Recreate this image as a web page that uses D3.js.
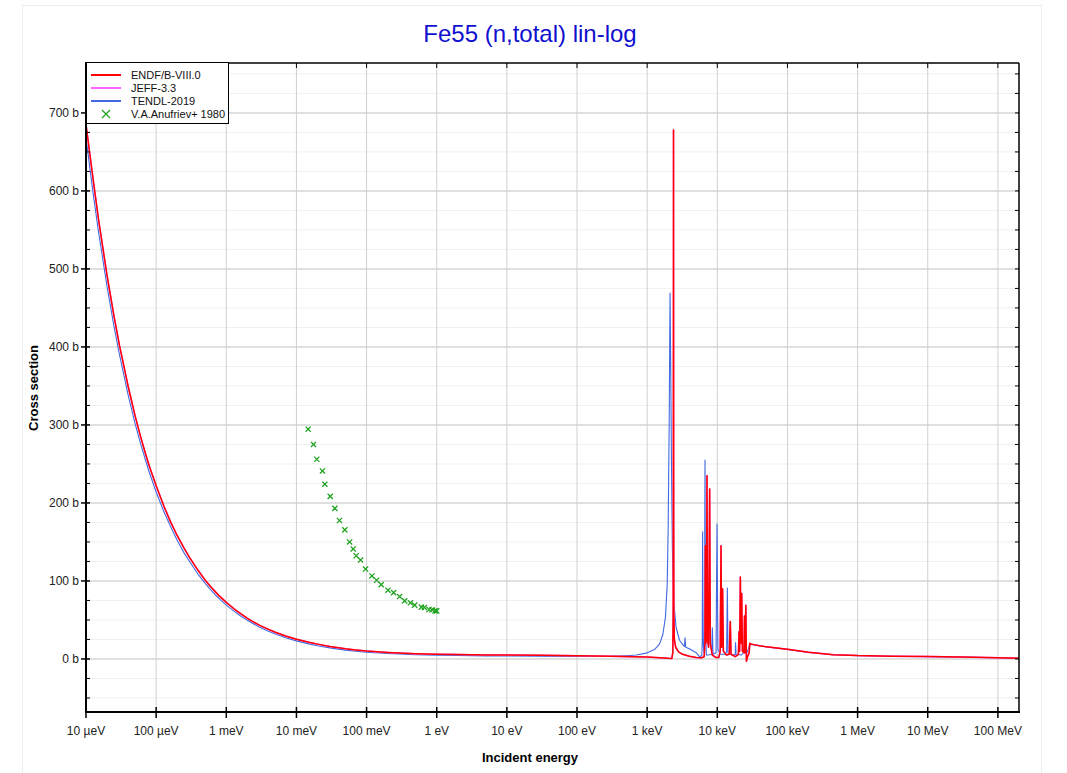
<!DOCTYPE html>
<html>
<head>
<meta charset="utf-8">
<script src="https://cdn.jsdelivr.net/npm/d3@7"></script>
<style>
  body { margin: 0; background: #fff; }
  svg { font-family: "Liberation Sans", Arial, sans-serif; }
</style>
</head>
<body>
<svg id="chart" width="1067" height="773"></svg>
<script>
// Fe55 (n,total) - energies in eV, cross sections in barns

// ENDF/B-VIII.0
const endf = [
    [1e-5, 685], [1.25e-5, 618], [1.5e-5, 565], [2e-5, 491], [2.5e-5, 440], [3e-5, 402],
    [4e-5, 349], [5e-5, 312], [6e-5, 285], [7e-5, 264], [8e-5, 247], [1e-4, 222],
    [1.3e-4, 195], [1.6e-4, 176], [2e-4, 158], [2.5e-4, 142], [3e-4, 130], [4e-4, 113],
    [5e-4, 101], [6e-4, 92.5], [7e-4, 86], [8e-4, 80.5], [1e-3, 72.5], [1.3e-3, 64],
    [1.6e-3, 58], [2e-3, 52], [2.5e-3, 47], [3e-3, 43], [4e-3, 38], [5e-3, 34.3],
    [7e-3, 29.5], [1e-2, 25.3], [1.5e-2, 21.3], [2e-2, 19], [3e-2, 16], [5e-2, 13],
    [7e-2, 11.5], [0.1, 10.2], [0.2, 8.4], [0.5, 6.8], [1, 6.1], [2, 5.6], [5, 5.2],
    [10, 5.0], [30, 4.6], [100, 4.2], [300, 3.6], [1000, 2.4], [1500, 1.6], [2000, 0.8],
    [2250, 0.6], [2320, 8], [2350, 60], [2365, 250], [2375, 678], [2385, 250], [2400, 60],
    [2440, 25], [2550, 15], [2800, 9], [3200, 6], [4000, 3.5], [5000, 2], [6000, 1.5],
    [6500, 3], [6650, 20], [6750, 145], [6850, 20], [7000, 25], [7130, 235], [7250, 25],
    [7500, 15], [7780, 218], [7950, 20], [8500, 5], [9500, 2], [10500, 2], [11000, 10],
    [11300, 145], [11550, 15], [11900, 90], [12200, 10], [13500, 5], [14800, 6], [15300, 48],
    [15700, 6], [18000, 3], [20000, 6], [20400, 35], [20800, 10], [21300, 105], [21800, 20],
    [22300, 84], [22800, 10], [24000, 8], [24400, 55], [24800, 8], [25500, 69], [26000, -3],
    [27000, 3], [28500, 8], [29000, 20], [29500, 18], [30000, 19], [50000, 15.5],
    [1e5, 12.3], [2e5, 8.5], [4.5e5, 5.5], [1e6, 4.3], [3e6, 3.6], [1e7, 3.0],
    [3e7, 2.4], [1e8, 1.7], [2e8, 0.9]
];

// JEFF-3.3 coincides with ENDF/B-VIII.0 on this plot (hidden under the red line)
const jeff = endf;

// TENDL-2019
const tendl = [
    [1e-5, 668], [1.25e-5, 600], [1.5e-5, 549], [2e-5, 477], [2.5e-5, 427], [3e-5, 390],
    [4e-5, 338], [5e-5, 302], [6e-5, 276], [7e-5, 256], [8e-5, 239], [1e-4, 214],
    [1.3e-4, 188], [1.6e-4, 170], [2e-4, 152], [2.5e-4, 136], [3e-4, 125], [4e-4, 108],
    [5e-4, 97], [6e-4, 88.5], [7e-4, 82], [8e-4, 77], [1e-3, 69], [1.3e-3, 61],
    [1.6e-3, 55], [2e-3, 49.5], [2.5e-3, 44.5], [3e-3, 40.5], [4e-3, 35.5], [5e-3, 32],
    [7e-3, 27.3], [1e-2, 23.2], [1.5e-2, 19.3], [2e-2, 17], [3e-2, 14.2], [5e-2, 11.3],
    [7e-2, 9.8], [0.1, 8.6], [0.2, 6.9], [0.5, 5.4], [1, 4.8], [2, 4.4], [5, 4.0],
    [10, 3.8], [30, 3.5], [100, 3.3], [300, 3.4], [500, 4.2], [700, 5], [1000, 7.8],
    [1270, 12], [1500, 19], [1670, 31], [1820, 53], [1930, 95], [1990, 163], [2060, 300],
    [2120, 469], [2170, 368], [2220, 254], [2290, 140], [2400, 72], [2590, 40], [2890, 24],
    [3300, 17], [3400, 16], [3470, 27], [3540, 15], [4000, 13], [5000, 8], [5550, 3],
    [6000, 4], [6100, 20], [6180, 163], [6280, 20], [6450, 8], [6550, 30], [6680, 255],
    [6800, 30], [7000, 5], [7500, 5], [8300, 6], [8500, 40], [8700, 6], [9600, 8],
    [9900, 173], [10200, 12], [11000, 6], [13000, 6], [13600, 10], [13900, 91], [14200, 8],
    [16000, 5], [18000, 6], [18200, 21], [18500, 6], [22000, 5], [25000, 10], [26000, 6],
    [28000, 14], [29000, 19], [30000, 19], [50000, 15.3], [1e5, 12.2], [2e5, 8.4],
    [4.5e5, 5.4], [1e6, 4.2], [3e6, 3.5], [1e7, 2.9], [3e7, 2.3], [1e8, 1.6], [2e8, 0.9]
];

// V.A.Anufriev+ 1980 measured points
const anufriev = [
    [0.0147, 294.5], [0.0175, 275], [0.0195, 256], [0.0235, 241], [0.0254, 224],
    [0.0303, 208.5], [0.0353, 193], [0.0411, 177.5], [0.049, 165.5], [0.0572, 150],
    [0.0645, 141], [0.0711, 132.3], [0.0821, 126.8], [0.0968, 115.3], [0.119, 106.4],
    [0.139, 100.9], [0.162, 95.3], [0.202, 88.1], [0.243, 85.1], [0.296, 80],
    [0.349, 74.5], [0.421, 72], [0.485, 69], [0.604, 66.4], [0.667, 66], [0.776, 63.4],
    [0.858, 63], [0.947, 61.7], [1.0, 61.7]
];

const xTickValues = [1e-5, 1e-4, 1e-3, 1e-2, 1e-1, 1, 10, 100, 1e3, 1e4, 1e5, 1e6, 1e7, 1e8];
const xTickLabels = ["10 µeV", "100 µeV", "1 meV", "10 meV", "100 meV", "1 eV", "10 eV",
    "100 eV", "1 keV", "10 keV", "100 keV", "1 MeV", "10 MeV", "100 MeV"];
const yTickValues = [0, 100, 200, 300, 400, 500, 600, 700];
const yMinorValues = d3.range(-50, 751, 25).filter(v => v % 100 !== 0);

const series = [
    { name: "TENDL-2019", data: tendl, color: "#4169e1", width: 1.1 },
    { name: "JEFF-3.3", data: jeff, color: "#ff66ff", width: 1.5 },
    { name: "ENDF/B-VIII.0", data: endf, color: "#ff0000", width: 1.5 }
];

// plot box
const plotLeft = 86, plotRight = 1019, plotTop = 63, plotBottom = 712;

const svg = d3.select("#chart");

// outer page frame
svg.append("rect")
    .attr("x", 22.5).attr("y", 5.5)
    .attr("width", 1019).attr("height", 780)
    .attr("fill", "#fff")
    .attr("stroke", "#ececec");

const x = d3.scaleLog().domain([1e-5, 2e8]).range([plotLeft, plotRight]);
const y = d3.scaleLinear().domain([-68, 764]).range([plotBottom, plotTop]);

// title
svg.append("text")
    .attr("x", 530).attr("y", 42)
    .attr("text-anchor", "middle")
    .attr("fill", "#1010d0")
    .attr("font-size", "24px")
    .text("Fe55 (n,total) lin-log");

// grid
const grid = svg.append("g");
grid.selectAll(".ymin")
    .data(yMinorValues)
    .join("line")
    .attr("x1", plotLeft).attr("x2", plotRight)
    .attr("y1", d => y(d)).attr("y2", d => y(d))
    .attr("stroke", "#f0f0f0")
    .attr("stroke-width", 1);
grid.selectAll(".ymaj")
    .data(yTickValues)
    .join("line")
    .attr("x1", plotLeft).attr("x2", plotRight)
    .attr("y1", d => y(d)).attr("y2", d => y(d))
    .attr("stroke", "#d6d6d6")
    .attr("stroke-width", 1.5);
grid.selectAll(".xmaj")
    .data(xTickValues.slice(1))
    .join("line")
    .attr("x1", d => x(d)).attr("x2", d => x(d))
    .attr("y1", plotTop).attr("y2", plotBottom)
    .attr("stroke", "#d0d0d0")
    .attr("stroke-width", 1);

// clip
svg.append("clipPath").attr("id", "plot-clip")
    .append("rect")
    .attr("x", plotLeft).attr("y", plotTop)
    .attr("width", plotRight - plotLeft).attr("height", plotBottom - plotTop);

const line = d3.line()
    .x(d => x(d[0]))
    .y(d => y(d[1]));

const plot = svg.append("g").attr("clip-path", "url(#plot-clip)");

plot.selectAll(".curve")
    .data(series)
    .join("path")
    .attr("fill", "none")
    .attr("stroke", d => d.color)
    .attr("stroke-width", d => d.width)
    .attr("stroke-linejoin", "round")
    .attr("d", d => line(d.data));

// experimental crosses
const cross = 2.6;
plot.selectAll(".pt")
    .data(anufriev)
    .join("path")
    .attr("transform", d => `translate(${x(d[0])},${y(d[1])})`)
    .attr("d", `M${-cross},${-cross}L${cross},${cross}M${-cross},${cross}L${cross},${-cross}`)
    .attr("stroke", "#1fa31f")
    .attr("stroke-width", 1.3)
    .attr("fill", "none");

// axes frame and ticks
const axes = svg.append("g").attr("stroke", "#000");
axes.append("line").attr("x1", plotLeft).attr("x2", plotRight).attr("y1", plotTop).attr("y2", plotTop).attr("stroke-width", 1.5);
axes.append("line").attr("x1", plotRight).attr("x2", plotRight).attr("y1", plotTop).attr("y2", plotBottom).attr("stroke-width", 1.5);
axes.append("line").attr("x1", plotLeft).attr("x2", plotLeft).attr("y1", plotTop - 1).attr("y2", plotBottom + 1).attr("stroke-width", 2);
axes.append("line").attr("x1", plotLeft - 1).attr("x2", plotRight + 1).attr("y1", plotBottom).attr("y2", plotBottom).attr("stroke-width", 2);

// left ticks
axes.selectAll(".lmaj").data(yTickValues).join("line")
    .attr("x1", plotLeft - 5).attr("x2", plotLeft + 4)
    .attr("y1", d => y(d)).attr("y2", d => y(d)).attr("stroke-width", 1.5);
axes.selectAll(".lmin").data(yMinorValues).join("line")
    .attr("x1", plotLeft).attr("x2", plotLeft + 4)
    .attr("y1", d => y(d)).attr("y2", d => y(d)).attr("stroke-width", 1);
// right ticks
axes.selectAll(".rt").data(yTickValues.concat(yMinorValues)).join("line")
    .attr("x1", plotRight - 4).attr("x2", plotRight)
    .attr("y1", d => y(d)).attr("y2", d => y(d)).attr("stroke-width", 1);
// bottom ticks
axes.selectAll(".bt").data(xTickValues).join("line")
    .attr("x1", d => x(d)).attr("x2", d => x(d))
    .attr("y1", plotBottom - 5).attr("y2", plotBottom + 6).attr("stroke-width", 1.5);
// top ticks
axes.selectAll(".tt").data(xTickValues).join("line")
    .attr("x1", d => x(d)).attr("x2", d => x(d))
    .attr("y1", plotTop).attr("y2", plotTop + 5).attr("stroke-width", 1);

// tick labels
svg.append("g").selectAll("text")
    .data(yTickValues)
    .join("text")
    .attr("x", plotLeft - 7)
    .attr("y", d => y(d))
    .attr("dy", "0.35em")
    .attr("text-anchor", "end")
    .attr("font-size", "12px")
    .attr("fill", "#222")
    .text(d => `${d} b`);

svg.append("g").selectAll("text")
    .data(xTickValues)
    .join("text")
    .attr("x", d => x(d))
    .attr("y", 735)
    .attr("text-anchor", "middle")
    .attr("font-size", "12px")
    .attr("fill", "#222")
    .text((d, i) => xTickLabels[i]);

// axis titles
svg.append("text")
    .attr("transform", "translate(38,388) rotate(-90)")
    .attr("text-anchor", "middle")
    .attr("font-size", "13px")
    .attr("font-weight", "bold")
    .text("Cross section");

svg.append("text")
    .attr("x", 530).attr("y", 762)
    .attr("text-anchor", "middle")
    .attr("font-size", "13px")
    .attr("font-weight", "bold")
    .text("Incident energy");

// legend
const legendItems = [
    { name: "ENDF/B-VIII.0", color: "#ff0000", type: "line" },
    { name: "JEFF-3.3", color: "#ff66ff", type: "line" },
    { name: "TENDL-2019", color: "#4169e1", type: "line" },
    { name: "V.A.Anufriev+ 1980", color: "#1fa31f", type: "cross" }
];

const legend = svg.append("g");
legend.append("rect")
    .attr("x", 86.5).attr("y", 62.5)
    .attr("width", 142).attr("height", 61)
    .attr("fill", "#fff")
    .attr("stroke", "#000")
    .attr("stroke-width", 1);

const rows = legend.selectAll("g")
    .data(legendItems)
    .join("g")
    .attr("transform", (d, i) => `translate(0,${75 + i * 13})`);

rows.filter(d => d.type === "line").append("line")
    .attr("x1", 91).attr("x2", 121)
    .attr("stroke", d => d.color)
    .attr("stroke-width", 2);

rows.filter(d => d.type === "cross").append("path")
    .attr("d", "M102,-4L110,4M102,4L110,-4")
    .attr("stroke", d => d.color)
    .attr("stroke-width", 1.2);

rows.append("text")
    .attr("x", 131)
    .attr("dy", "0.35em")
    .attr("font-size", "11px")
    .attr("fill", "#111")
    .text(d => d.name);
</script>
</body>
</html>
